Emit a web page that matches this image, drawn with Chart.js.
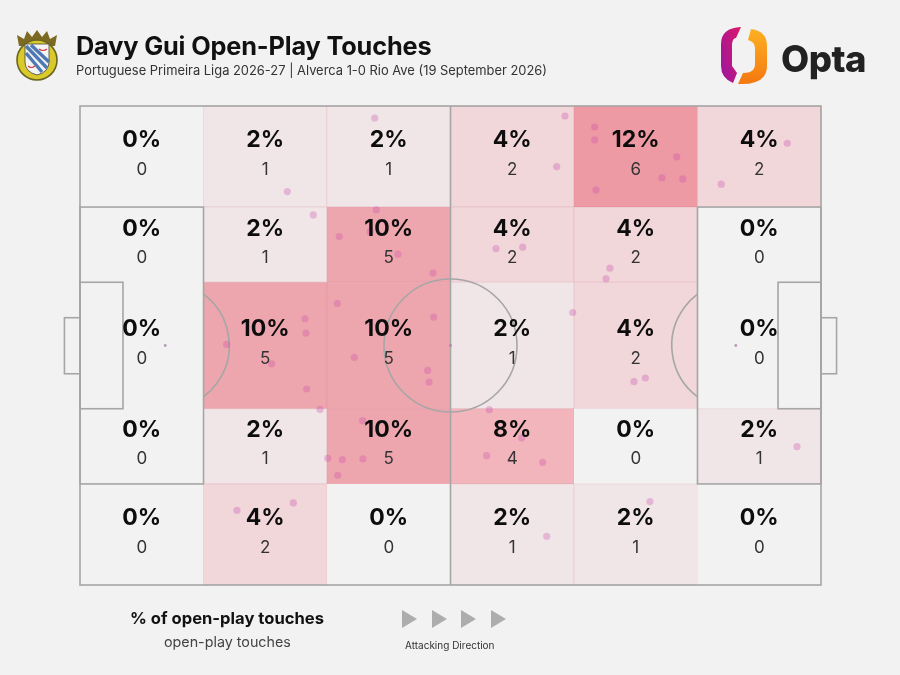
<!DOCTYPE html>
<html>
<head>
<meta charset="utf-8">
<script src="https://cdn.jsdelivr.net/npm/chart.js@4"></script>
<style>
html,body{margin:0;padding:0;background:#f2f2f2;width:900px;height:675px;overflow:hidden}
body{position:relative;font-family:Inter,sans-serif;color:#111}
#c{position:absolute;left:0;top:0}
.t{position:absolute;white-space:nowrap}
svg{position:absolute;left:0;top:0;pointer-events:none}
</style>
</head>
<body>
<canvas id="c" width="900" height="675"></canvas>
<svg width="900" height="675" viewBox="0 0 900 675">
  <defs>
    <linearGradient id="gl" x1="1" y1="0" x2="0" y2="0.7"><stop offset="0" stop-color="#dc1a68"/><stop offset="1" stop-color="#a2169a"/></linearGradient>
    <linearGradient id="gr" x1="0" y1="0" x2="0" y2="1"><stop offset="0" stop-color="#fdb022"/><stop offset="1" stop-color="#f5780f"/></linearGradient>
  </defs>
  <!-- crest -->
  <path d="M19 46 L17 35 L24 39 L27 31 L32 37 L37 30 L42 37 L47 31 L50 39 L57 35 L55 46 Z" fill="#7d6a22"/>
  <circle cx="37" cy="60" r="20" fill="#d9c92a" stroke="#6b6420" stroke-width="1.6"/>
  <path d="M25 44 H49 V62 Q49 72 37 75 Q25 72 25 62 Z" fill="#f4f4f4" stroke="#444" stroke-width="0.8"/>
  <path d="M26 46 L47 68 M26 53 L42 72 M31 45 L49 62" stroke="#4f79b5" stroke-width="3.4" fill="none"/>
  <path d="M39 49 Q43 52 47 49 M28 66 Q31 69 35 66" stroke="#d8383f" stroke-width="1.2" fill="none"/>
  <!-- Opta mark -->
  <path d="M741 27 L736 38 Q732 38 732 46 V66 L737 73 L733 83 Q721 78 721 66 V44 Q721 28 741 27 Z" fill="url(#gl)"/>
  <path d="M751 29 Q767 31 767 46 V66 Q767 85 738 84 L743 73 Q755 73 755 64 V48 Q755 42 748 40 Z" fill="url(#gr)"/>
  <!-- attacking direction -->
  <path d="M402 610 L417 619 L402 628 Z" fill="#adadad"/>
  <path d="M432 610 L447 619 L432 628 Z" fill="#adadad"/>
  <path d="M461 610 L476 619 L461 628 Z" fill="#adadad"/>
  <path d="M491 610 L506 619 L491 628 Z" fill="#adadad"/>
</svg>
<div class="t" style="left:76px;top:29px;font-size:25.3px;font-weight:700;letter-spacing:-.15px;line-height:34px">Davy Gui Open-Play Touches</div>
<div class="t" style="left:76px;top:62px;font-size:12.9px;font-weight:400;color:#333;line-height:18px">Portuguese Primeira Liga 2026-27 | Alverca 1-0 Rio Ave (19 September 2026)</div>
<div class="t" style="left:781px;top:35px;font-size:36.5px;font-weight:800;color:#222;line-height:48px;letter-spacing:-.5px">Opta</div>
<div class="t" style="left:130px;top:607px;font-size:16.6px;font-weight:700;line-height:22px">% of open-play touches</div>
<div class="t" style="left:164px;top:633px;font-size:14.3px;color:#444;line-height:18px">open-play touches</div>
<div class="t" style="left:405px;top:638px;font-size:10px;color:#333;line-height:14px">Attacking Direction</div>
<script>
// Grid edges in pitch units (0-100 along both axes)
const columnEdges = [0, 16.67, 33.33, 50, 66.67, 83.33, 100];
const rowEdges = [100, 78.9, 63.2, 36.8, 21.1, 0];

// Rows top to bottom
const touchCounts = [
  [0, 1, 1, 2, 6, 2],
  [0, 1, 5, 2, 2, 0],
  [0, 5, 5, 1, 2, 0],
  [0, 1, 5, 4, 0, 1],
  [0, 2, 0, 1, 1, 0]
];
const touchPercents = [
  [0, 2, 2, 4, 12, 4],
  [0, 2, 10, 4, 4, 0],
  [0, 10, 10, 2, 4, 0],
  [0, 2, 10, 8, 0, 2],
  [0, 4, 0, 2, 2, 0]
];
const shadeByCount = {0: '#f2f2f2', 1: '#f1e6e7', 2: '#f1d6da', 4: '#f2b5bc', 5: '#eea6ae', 6: '#ee9aa5'};

const touchX = [39.77,27.98,65.45,64.33,69.46,69.46,80.53,78.54,81.34,69.64,95.45,86.54,
  31.48,39.99,34.99,39.14,42.91,47.64,56.14,59.74,71.52,70.99,
  30.36,30.5,19.8,25.87,30.59,34.72,47.73,37.02,46.92,47.1,66.49,74.76,76.29,
  32.39,38.15,33.43,35.4,38.19,34.78,55.24,59.61,54.88,62.44,96.76,
  21.19,28.79,62.98,76.92];
const touchY = [97.5,82.13,97.91,87.34,95.62,92.91,89.36,84.98,84.77,82.48,92.22,83.67,
  77.27,78.31,72.74,73.72,69.07,65.11,70.24,70.53,66.15,63.92,
  55.58,52.6,50.22,46.19,40.92,58.77,55.93,47.51,44.8,42.38,56.89,42.44,43.21,
  36.66,34.31,26.44,26.17,26.32,22.9,36.6,30.7,27.0,25.61,28.88,
  15.6,17.14,10.18,17.41];

// Pitch markings
const pitchRects = [
  [0, 0, 100, 100],
  [0, 21.1, 16.67, 78.9],
  [83.33, 21.1, 100, 78.9],
  [0, 36.8, 5.8, 63.2],
  [94.2, 36.8, 100, 63.2],
  [-2.1, 44.1, 0, 55.8],
  [100, 44.1, 102.1, 55.8]
];
const halfwayX = 50;
const centreMark = [50, 50];
const penaltySpots = [[11.5, 50], [88.5, 50]];

const cellPlugin = {
  id: 'cells',
  beforeDatasetsDraw(chart) {
    const {ctx, scales: {x, y}} = chart;
    ctx.save();
    touchCounts.forEach((row, r) => row.forEach((n, c) => {
      const l = x.getPixelForValue(columnEdges[c]), h = x.getPixelForValue(columnEdges[c + 1]);
      const t = y.getPixelForValue(rowEdges[r]), b = y.getPixelForValue(rowEdges[r + 1]);
      ctx.fillStyle = shadeByCount[n];
      ctx.fillRect(l, t, h - l, b - t);
      if (n > 0) {
        ctx.strokeStyle = 'rgba(190,90,110,0.12)';
        ctx.lineWidth = 1;
        ctx.strokeRect(l, t, h - l, b - t);
      }
    }));
    ctx.strokeStyle = '#a6a6a6';
    ctx.lineWidth = 1.6;
    pitchRects.forEach(([x0, y0, x1, y1]) => {
      const l = x.getPixelForValue(x0), r = x.getPixelForValue(x1);
      const t = y.getPixelForValue(y1), b = y.getPixelForValue(y0);
      ctx.strokeRect(l, t, r - l, b - t);
    });
    const mid = x.getPixelForValue(halfwayX);
    ctx.beginPath(); ctx.moveTo(mid, y.top); ctx.lineTo(mid, y.bottom); ctx.stroke();
    const cy = y.getPixelForValue(50);
    ctx.beginPath(); ctx.arc(mid, cy, 66.5, 0, Math.PI * 2); ctx.stroke();
    const ls = x.getPixelForValue(penaltySpots[0][0]), rs = x.getPixelForValue(penaltySpots[1][0]);
    const a = Math.acos((x.getPixelForValue(columnEdges[1]) - ls) / 64);
    ctx.beginPath(); ctx.arc(ls, cy, 64, -a, a); ctx.stroke();
    ctx.beginPath(); ctx.arc(rs, cy, 64, Math.PI - a, Math.PI + a); ctx.stroke();
    ctx.fillStyle = 'rgba(170,130,170,0.8)';
    [...penaltySpots, centreMark].forEach(([px, py]) => {
      ctx.beginPath(); ctx.arc(x.getPixelForValue(px), y.getPixelForValue(py), 1.4, 0, Math.PI * 2); ctx.fill();
    });
    ctx.restore();
  },
  afterDatasetsDraw(chart) {
    const {ctx, scales: {x, y}} = chart;
    ctx.save();
    ctx.textAlign = 'center';
    ctx.textBaseline = 'middle';
    touchCounts.forEach((row, r) => row.forEach((n, c) => {
      const cx = x.getPixelForValue((columnEdges[c] + columnEdges[c + 1]) / 2);
      const t = y.getPixelForValue(rowEdges[r]);
      const b = y.getPixelForValue(rowEdges[r + 1]);
      const m = (t + b) / 2;
      ctx.fillStyle = '#0d0d0d';
      ctx.font = '700 23px Inter, sans-serif';
      ctx.fillText(touchPercents[r][c] + '%', cx, m - 16);
      ctx.fillStyle = '#333';
      ctx.font = '400 17px Inter, sans-serif';
      ctx.fillText(String(n), cx, m + 13);
    }));
    ctx.restore();
  }
};

new Chart(document.getElementById('c'), {
  type: 'scatter',
  data: {
    datasets: [{
      data: touchX.map((v, i) => ({x: v, y: touchY[i]})),
      backgroundColor: 'rgba(200,70,170,0.3)',
      borderWidth: 0,
      pointRadius: 3.6,
      clip: false
    }]
  },
  options: {
    responsive: false,
    animation: false,
    devicePixelRatio: 1,
    layout: {padding: {left: 80, right: 79, top: 106, bottom: 90}},
    scales: {
      x: {type: 'linear', min: 0, max: 100, display: false},
      y: {type: 'linear', min: 0, max: 100, display: false}
    },
    plugins: {legend: {display: false}, tooltip: {enabled: false}, title: {display: false}}
  },
  plugins: [cellPlugin]
});
</script>
</body>
</html>
